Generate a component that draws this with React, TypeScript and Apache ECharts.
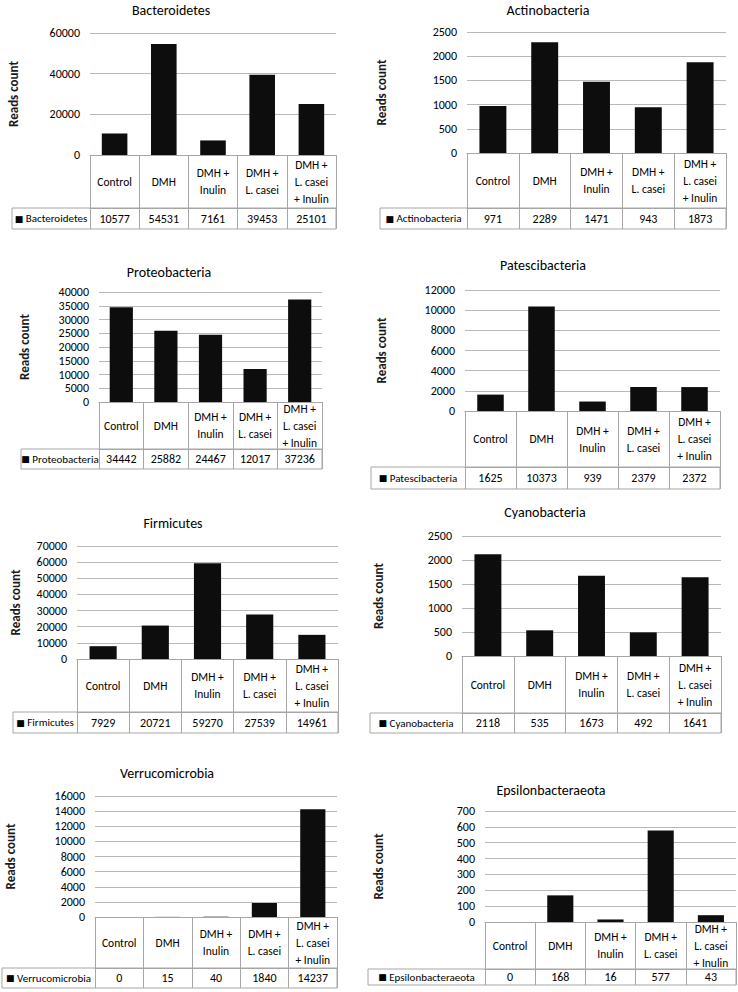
import React, { useEffect, useRef } from 'react';
import * as echarts from 'echarts';

const FONT = "Carlito, Lato, 'Noto Sans', sans-serif";
const BORDER = '#a6a6a6';
const GRIDC = '#b8b8b8';
const BAR = '#0d0d0d';

// ---------- data ----------
const CATEGORIES = ['Control', 'DMH', 'DMH +\nInulin', 'DMH +\nL. casei', 'DMH +\nL. casei\n+ Inulin'];
const PHYLA = ['Bacteroidetes', 'Actinobacteria', 'Proteobacteria', 'Patescibacteria', 'Firmicutes', 'Cyanobacteria', 'Verrucomicrobia', 'Epsilonbacteraeota'];
const bacteroidetes = [10577, 54531, 7161, 39453, 25101];
const actinobacteria = [971, 2289, 1471, 943, 1873];
const proteobacteria = [34442, 25882, 24467, 12017, 37236];
const patescibacteria = [1625, 10373, 939, 2379, 2372];
const firmicutes = [7929, 20721, 59270, 27539, 14961];
const cyanobacteria = [2118, 535, 1673, 492, 1641];
const verrucomicrobia = [0, 15, 40, 1840, 14237];
const epsilonbacteraeota = [0, 168, 16, 577, 43];
const SERIES = [bacteroidetes, actinobacteria, proteobacteria, patescibacteria, firmicutes, cyanobacteria, verrucomicrobia, epsilonbacteraeota];
const Y_MAX = [60000, 2500, 40000, 12000, 70000, 2500, 16000, 700];
const Y_STEP = [20000, 500, 5000, 2000, 10000, 500, 2000, 100];
const Y_TITLE = 'Reads count';

// ---------- layout (pixels) ----------
const LAYOUT = [
  { left: 90, right: 336, top: 33, axis: 155, catB: 208, valB: 229, legL: 12, tx: 171, ty: 10, rx: 13 },
  { left: 467, right: 726, top: 32, axis: 153, catB: 208, valB: 229, legL: 380, tx: 548, ty: 10, rx: 381 },
  { left: 99, right: 322, top: 292, axis: 402, catB: 449, valB: 469, legL: 21, tx: 169, ty: 272, rx: 24 },
  { left: 465, right: 720, top: 290, axis: 411, catB: 467, valB: 489, legL: 371, tx: 543, ty: 265, rx: 381 },
  { left: 77, right: 338, top: 546, axis: 659, catB: 712, valB: 733, legL: 13, tx: 173, ty: 523, rx: 15 },
  { left: 462, right: 721, top: 536, axis: 656, catB: 713, valB: 733, legL: 370, tx: 545, ty: 512, rx: 378 },
  { left: 95, right: 337, top: 796, axis: 917, catB: 968, valB: 988, legL: 2, tx: 167, ty: 773, rx: 10 },
  { left: 485, right: 736, top: 811, axis: 922, catB: 969, valB: 985, legL: 368, tx: 551, ty: 790, rx: 378 },
];

function buildOption() {
  const grid: any[] = [];
  const xAxis: any[] = [];
  const yAxis: any[] = [];
  const series: any[] = [];
  const graphic: any[] = [];

  LAYOUT.forEach((L, i) => {
    const values = SERIES[i];
    grid.push({ left: L.left, top: L.top, width: L.right - L.left, height: L.axis - L.top, containLabel: false });
    xAxis.push({
      type: 'category', gridIndex: i, data: CATEGORIES, position: 'bottom',
      axisLine: { show: true, lineStyle: { color: BORDER, width: 1 } },
      axisTick: { show: true, length: L.valB - L.axis, interval: 0, alignWithLabel: false, lineStyle: { color: BORDER } },
      axisLabel: {
        interval: 0, margin: (L.catB - L.axis) / 2, verticalAlign: 'middle', align: 'center',
        fontSize: 11.5, lineHeight: 17, color: '#000', fontFamily: FONT,
      },
      splitLine: { show: false },
    });
    xAxis.push({
      type: 'category', gridIndex: i, data: values.map(String), position: 'bottom', offset: L.catB - L.axis,
      axisLine: { show: true, lineStyle: { color: BORDER, width: 1 } },
      axisTick: { show: false },
      axisLabel: {
        interval: 0, margin: (L.valB - L.catB) / 2, verticalAlign: 'middle', align: 'center',
        fontSize: 12, color: '#000', fontFamily: FONT,
      },
      splitLine: { show: false },
    });
    yAxis.push({
      type: 'value', gridIndex: i, min: 0, max: Y_MAX[i], interval: Y_STEP[i],
      axisLine: { show: false }, axisTick: { show: false },
      splitLine: { show: true, lineStyle: { color: GRIDC, width: 1 } },
      axisLabel: { margin: 10, fontSize: 12, color: '#000', fontFamily: FONT, formatter: (v: number) => String(v) },
    });
    series.push({
      type: 'bar', xAxisIndex: 2 * i, yAxisIndex: i, data: values, barWidth: '52%',
      itemStyle: { color: BAR },
    });
    graphic.push({
      type: 'text', x: L.tx, y: L.ty,
      style: { text: PHYLA[i], align: 'center', verticalAlign: 'middle', fontSize: 14, fontFamily: FONT, fill: '#000' },
    });
    graphic.push({
      type: 'text', x: L.rx, y: (L.top + L.axis) / 2, rotation: Math.PI / 2,
      style: { text: Y_TITLE, align: 'center', verticalAlign: 'middle', fontSize: 13, fontWeight: 'bold', fontFamily: FONT, fill: '#1a1a1a' },
    });
    graphic.push({
      type: 'rect',
      shape: { x: L.legL, y: L.catB, width: L.right - L.legL, height: L.valB - L.catB },
      style: { fill: 'none', stroke: BORDER, lineWidth: 1 },
    });
    graphic.push({
      type: 'text', x: (L.legL + L.left) / 2, y: (L.catB + L.valB) / 2,
      style: {
        text: '{sq|■} ' + PHYLA[i], align: 'center', verticalAlign: 'middle', fontSize: 11, fontFamily: FONT, fill: '#000',
        rich: { sq: { fontSize: 9, fontFamily: 'DejaVu Sans', fill: '#000' } },
      },
    });
  });

  return { animation: false, backgroundColor: '#fff', grid, xAxis, yAxis, series, graphic };
}

export default function App() {
  const ref = useRef<HTMLDivElement>(null);
  useEffect(() => {
    const chart = echarts.init(ref.current!, null, { renderer: 'svg' });
    chart.setOption(buildOption() as any);
    return () => chart.dispose();
  }, []);
  return <div ref={ref} style={{ position: 'fixed', left: 0, top: 0, width: 738, height: 992, background: '#fff' }} />;
}
